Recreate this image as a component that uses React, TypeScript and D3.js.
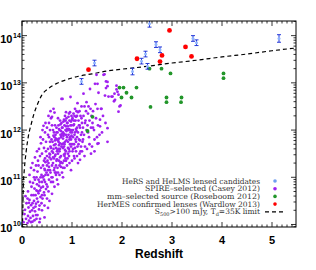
import React from 'react';
import * as d3 from 'd3';

const W = 316;
const H = 270;
const plot = { x0: 22, x1: 296, y0: 21, y1: 227 };

// all points are [redshift, log10 luminosity]
const caseyPoints: [number, number][] = [
  [0.03,10.05],[0.05,10.22],[0.06,10.31],[0.08,10.12],[0.09,10.45],[0.07,10.6],
  [0.11,10.03],[0.12,10.18],[0.13,10.36],[0.14,10.08],[0.15,10.52],[0.16,10.27],[0.17,10.14],[0.18,10.41],
  [0.19,10.62],[0.12,10.7],[0.16,10.9],[0.18,10.05],[0.14,10.46],[0.2,10.3],[0.19,10.8],[0.11,10.55],
  [0.21,10.06],[0.22,10.18],[0.23,10.35],[0.24,10.5],[0.25,10.09],[0.26,10.28],[0.27,10.62],[0.28,10.44],
  [0.29,10.72],[0.22,10.88],[0.24,11.0],[0.26,10.95],[0.28,10.2],[0.3,10.55],[0.23,10.62],[0.25,10.76],
  [0.27,10.38],[0.29,10.12],[0.21,10.45],[0.3,10.85],
  [0.31,10.2],[0.32,10.48],[0.33,10.66],[0.34,10.32],[0.35,10.9],[0.36,10.12],[0.37,10.58],[0.38,10.78],
  [0.39,11.05],[0.31,11.12],[0.33,10.95],[0.35,10.4],[0.36,10.72],[0.38,11.2],[0.4,10.62],[0.34,10.82],
  [0.37,11.0],[0.32,10.7],[0.39,10.45],[0.4,10.9],
  [0.41,10.55],[0.42,10.8],[0.43,11.02],[0.44,10.68],[0.45,11.18],[0.46,10.9],[0.47,11.32],[0.48,10.75],
  [0.49,11.1],[0.5,11.45],[0.42,11.25],[0.44,10.95],[0.46,11.4],[0.43,12.09],[0.48,11.55],[0.41,11.0],
  [0.45,10.62],[0.47,11.05],[0.49,10.85],[0.5,11.25],[0.44,11.35],[0.46,11.15],
  [0.51,10.8],[0.52,11.05],[0.53,11.3],[0.54,10.95],[0.55,11.5],[0.56,11.15],[0.57,11.65],[0.58,11.38],
  [0.59,11.0],[0.6,11.55],[0.52,11.6],[0.54,11.22],[0.56,11.75],[0.58,10.9],[0.55,11.42],[0.57,11.1],
  [0.59,11.8],[0.53,10.7],[0.51,11.35],[0.6,11.25],[0.56,11.48],[0.58,11.62],[0.54,11.85],[0.52,11.15],
  [0.61,11.0],[0.62,11.3],[0.63,11.6],[0.64,11.15],[0.65,11.85],[0.66,11.45],[0.67,11.7],[0.68,11.25],
  [0.69,11.95],[0.7,11.55],[0.61,11.75],[0.62,12.0],[0.63,12.45],[0.65,12.37],[0.64,11.4],[0.66,11.1],
  [0.67,11.9],[0.68,11.62],[0.69,11.35],[0.7,11.8],[0.62,11.52],[0.64,11.68],[0.66,12.1],[0.68,11.05],
  [0.63,11.88],[0.65,11.2],[0.67,11.48],[0.69,12.05],
  [0.71,11.2],[0.72,11.5],[0.73,11.75],[0.74,11.35],[0.75,12.0],[0.76,11.6],[0.77,11.9],[0.78,11.45],
  [0.79,12.15],[0.8,11.7],[0.71,11.95],[0.72,11.1],[0.73,12.1],[0.74,11.82],[0.75,11.55],[0.76,12.2],
  [0.77,11.3],[0.78,11.98],[0.79,11.65],[0.8,12.05],[0.72,11.78],[0.74,12.02],[0.76,11.42],[0.78,11.85],
  [0.73,11.6],[0.75,11.25],[0.77,12.12],[0.79,11.88],[0.71,11.58],[0.79,12.66],
  [0.81,11.3],[0.82,11.62],[0.83,11.88],[0.84,11.48],[0.85,12.1],[0.86,11.75],[0.87,12.0],[0.88,11.55],
  [0.89,12.25],[0.9,11.85],[0.81,12.05],[0.82,11.2],[0.83,12.18],[0.84,11.92],[0.85,11.7],[0.86,12.3],
  [0.87,11.4],[0.88,12.08],[0.89,11.78],[0.9,12.15],[0.82,11.95],[0.84,12.22],[0.86,11.58],[0.88,11.9],
  [0.83,11.72],[0.85,11.45],[0.87,12.2],[0.89,11.98],[0.81,12.66],[0.84,11.65],
  [0.91,11.4],[0.92,11.75],[0.93,12.0],[0.94,11.6],[0.95,12.2],[0.96,11.85],[0.97,12.1],[0.98,11.65],
  [0.99,12.3],[1.0,11.95],[0.91,12.15],[0.92,11.5],[0.93,12.28],[0.94,12.02],[0.95,11.8],[0.96,12.38],
  [0.97,12.7],[0.98,12.18],[0.99,11.88],[1.0,12.22],[0.92,12.08],[0.94,12.35],[0.96,11.7],[0.98,12.0],
  [0.93,11.9],[0.95,11.55],[0.97,11.95],[0.99,12.1],
  [1.01,11.55],[1.02,11.85],[1.03,12.1],[1.04,11.7],[1.05,12.3],[1.06,11.95],[1.07,12.2],[1.08,11.75],
  [1.09,12.4],[1.1,12.05],[1.01,12.25],[1.02,11.6],[1.03,12.35],[1.04,12.12],[1.05,11.9],[1.06,12.45],
  [1.07,11.8],[1.08,12.28],[1.09,11.98],[1.1,12.3],[1.04,11.45],[1.08,12.02],
  [1.11,11.65],[1.12,11.95],[1.13,12.2],[1.14,11.8],[1.15,12.4],[1.16,12.05],[1.17,12.3],[1.18,11.9],
  [1.19,12.5],[1.2,12.15],[1.11,12.57],[1.13,11.7],[1.15,12.1],[1.17,11.55],[1.19,12.25],[1.16,11.37],
  [1.21,11.75],[1.22,12.05],[1.23,12.3],[1.24,11.9],[1.25,12.5],[1.26,11.65],[1.27,12.2],[1.28,12.4],
  [1.29,12.0],[1.23,12.77],[1.29,12.59],[1.26,12.15],
  [1.31,12.1],[1.32,12.35],[1.33,12.5],[1.34,11.85],[1.35,12.2],[1.36,12.87],[1.37,12.45],[1.38,12.05],[1.39,12.3],
  [1.41,12.15],[1.42,12.4],[1.44,12.0],[1.46,12.98],[1.47,12.55],[1.48,12.25],[1.49,13.17],[1.45,11.8],
  [1.51,12.98],[1.51,12.45],[1.51,11.71],[1.53,12.79],[1.53,11.72],[1.56,12.22],[1.56,12.08],[1.58,12.45],[1.59,12.45],
  [1.63,13.17],[1.65,13.18],[1.66,12.73],[1.67,12.15],[1.68,12.89],[1.68,13.03],[1.71,12.04],[1.71,11.75],
  [1.71,12.93],[1.71,13.02],[1.73,12.71],[1.79,12.71],[1.81,12.71],[1.84,12.61],[1.85,12.77],[1.89,12.94],
  [1.91,12.81],[1.93,12.75],[1.93,12.39],[1.95,12.5],[1.97,12.52],[1.86,12.64],[1.89,12.86],
  // brighter edge at low redshift
  [0.15,11.05],[0.18,11.2],[0.21,11.3],[0.24,11.15],[0.26,11.42],[0.28,11.25],[0.3,11.55],[0.32,11.35],
  [0.34,11.6],[0.36,11.45],[0.38,11.72],[0.4,11.5],[0.42,11.8],[0.44,11.62],[0.46,11.95],[0.48,11.75],
  [0.5,12.05],[0.52,11.9],[0.54,12.15],[0.56,12.0],[0.58,12.25],[0.6,12.1],[0.37,11.85],[0.41,12.0],
  [0.29,11.0],[0.33,11.25],[0.47,12.15],[0.53,12.3],[0.57,12.4],[0.6,12.28],
  // fainter edge at higher redshift
  [0.55,10.5],[0.6,10.65],[0.65,10.8],[0.7,10.95],[0.75,11.05],[0.8,11.1],[0.85,11.2],[0.9,11.25],
  [0.95,11.3],[1.0,11.35],[1.05,11.4],[1.1,11.45],[1.15,11.5],[1.2,11.55],[1.25,11.45],[1.3,11.6],
  [1.35,11.7],[1.4,11.65],[1.45,11.55],[1.5,11.85],[1.55,11.9],[1.6,11.95],[0.72,10.85],[0.82,11.0],
  [0.62,10.9],[0.68,11.1],[0.78,11.22],[0.88,11.35],[0.98,11.15],[1.12,11.3],[1.22,11.8],[1.32,11.95],
  [1.42,12.05],[1.52,12.1],[1.62,12.3],[1.38,11.5],[0.45,10.4],[0.5,10.55],[0.4,10.3],[0.35,10.05],
  [0.45,10.15],[0.52,10.35],
  // core
  [0.62,11.42],[0.66,11.78],[0.7,11.38],[0.74,11.68],[0.78,11.32],[0.82,11.82],[0.86,11.5],[0.9,12.02],
  [0.94,11.45],[0.98,11.8],[1.02,12.0],[1.06,11.62],[1.1,11.85],[1.14,12.1],[1.18,11.65],[0.64,11.95],
  [0.68,11.82],[0.72,12.25],[0.76,11.72],[0.8,11.92],[0.84,11.35],[0.88,12.38],[0.92,11.62],[0.96,12.0],
  [1.0,11.7],[1.04,12.2],[1.08,11.55],[1.12,12.38],[1.16,11.78],[1.2,11.95],
];

const roseboomPoints: [number, number][] = [
  [1.31,11.98],[1.41,12.28],[1.95,12.9],[1.99,12.69],[2.03,12.9],[2.09,12.79],[2.19,12.69],[2.29,12.9],
  [2.55,13.3],[2.57,12.49],[2.79,13.3],[2.89,12.69],[2.89,12.59],[2.97,13.2],[3.18,12.59],[3.19,12.69],
  [4.03,13.2],[4.03,13.1],
];

const wardlowPoints: [number, number][] = [
  [1.33,13.28],[2.3,13.51],[2.76,13.45],[2.8,13.58],[2.95,14.11],[3.27,13.76],[3.39,13.56],
];

const candidatePoints: [number, number][] = [
  [1.19,13.03],[1.45,13.42],[2.21,13.24],[2.39,13.46],[2.47,13.61],[2.51,13.35],[2.55,14.25],
  [2.68,13.81],[2.76,13.7],[3.42,13.94],[3.49,13.85],[5.14,13.94],
];
const candidateErr = [0.06,0.06,0.07,0.06,0.06,0.06,0.07,0.06,0.06,0.06,0.06,0.08];

const limitCurve: [number, number][] = [
  [0.008,9.9],[0.014,10.18],[0.026,10.8],[0.046,11.16],[0.08,11.52],[0.126,11.86],[0.19,12.15],
  [0.25,12.38],[0.3,12.52],[0.39,12.73],[0.53,12.88],[0.7,12.99],[0.9,13.07],[1.13,13.14],[1.4,13.19],
  [1.7,13.25],[2.0,13.29],[2.5,13.35],[3.0,13.42],[3.5,13.48],[4.0,13.55],[4.5,13.61],[5.0,13.68],[5.5,13.74],
];

const xTicks = [0, 1, 2, 3, 4, 5];
const yDecades = [10, 11, 12, 13, 14];

const legendLabels = [
  'HeRS and HeLMS lensed candidates',
  'SPIRE\u2013selected (Casey 2012)',
  'mm\u2013selected source (Roseboom 2012)',
  'HerMES confirmed lenses (Wardlow 2013)',
];
const legendColors = ['#6f9ef0', '#a020f0', '#22962a', '#ff0000'];
const legendWidths = [138, 115, 153, 163];

const x = d3.scaleLinear().domain([0, 5.48]).range([plot.x0, plot.x1]);
const y = d3.scaleLinear().domain([9.947, 14.31]).range([plot.y1, plot.y0]);

const App: React.FC = () => {
  const line = d3.line<[number, number]>()
    .x(d => x(d[0]))
    .y(d => y(d[1]))
    .curve(d3.curveMonotoneX);

  const minorX = d3.range(0, 55).map(i => i / 10).filter(v => v <= 5.48);
  const minorY: number[] = [];
  for (let d = 9; d <= 14; d++) {
    for (let k = 2; k <= 9; k++) {
      const v = d + Math.log10(k);
      if (v > 9.947 && v < 14.31) minorY.push(v);
    }
  }

  const sans = 'Liberation Sans, Arial, sans-serif';
  const serif = 'DejaVu Serif, serif';
  const legY = [181, 188.7, 196.4, 204.1, 211.8];

  return (
    <svg width={W} height={H} style={{ position: 'absolute', left: 0, top: 0, background: '#fff' }}>
      <defs>
        <clipPath id="plot-clip">
          <rect x={plot.x0} y={plot.y0} width={plot.x1 - plot.x0} height={plot.y1 - plot.y0} />
        </clipPath>
      </defs>

      {/* ticks */}
      <g stroke="#000" strokeWidth={0.8}>
        {minorX.map((v, i) => {
          const major = Math.abs(v - Math.round(v)) < 1e-6;
          const len = major ? 5 : 2.5;
          return (
            <g key={'mx' + i}>
              <line x1={x(v)} x2={x(v)} y1={plot.y1} y2={plot.y1 - len} />
              <line x1={x(v)} x2={x(v)} y1={plot.y0} y2={plot.y0 + len} />
            </g>
          );
        })}
        {yDecades.map(d => (
          <g key={'yd' + d}>
            <line x1={plot.x0} x2={plot.x0 + 5} y1={y(d)} y2={y(d)} />
            <line x1={plot.x1} x2={plot.x1 - 5} y1={y(d)} y2={y(d)} />
          </g>
        ))}
        {minorY.map((v, i) => (
          <g key={'my' + i}>
            <line x1={plot.x0} x2={plot.x0 + 2.5} y1={y(v)} y2={y(v)} />
            <line x1={plot.x1} x2={plot.x1 - 2.5} y1={y(v)} y2={y(v)} />
          </g>
        ))}
      </g>

      <g clipPath="url(#plot-clip)">
        <path d={line(limitCurve) || ''} fill="none" stroke="#000" strokeWidth={1.2} strokeDasharray="4,3" />
        {caseyPoints.map((p, i) => (
          <circle key={'c' + i} cx={x(p[0])} cy={y(p[1])} r={1.4} fill="#a020f0" />
        ))}
        {roseboomPoints.map((p, i) => (
          <circle key={'g' + i} cx={x(p[0])} cy={y(p[1])} r={1.9} fill="#22962a" />
        ))}
        {wardlowPoints.map((p, i) => (
          <circle key={'r' + i} cx={x(p[0])} cy={y(p[1])} r={2.4} fill="#ff0000" />
        ))}
        {candidatePoints.map((p, i) => {
          const cx = x(p[0]);
          const top = y(p[1] + candidateErr[i]);
          const bot = y(p[1] - candidateErr[i]);
          return (
            <g key={'b' + i}>
              <line x1={cx} x2={cx} y1={top} y2={bot} stroke="#2438d8" strokeWidth={1} />
              <line x1={cx - 2} x2={cx + 2} y1={top} y2={top} stroke="#2438d8" strokeWidth={1} />
              <line x1={cx - 2} x2={cx + 2} y1={bot} y2={bot} stroke="#2438d8" strokeWidth={1} />
              <circle cx={cx} cy={y(p[1])} r={1.5} fill="#8fb4ff" />
            </g>
          );
        })}
      </g>

      {/* frame */}
      <rect x={plot.x0} y={plot.y0} width={plot.x1 - plot.x0} height={plot.y1 - plot.y0}
        fill="none" stroke="#000" strokeWidth={1} />

      {/* x tick labels */}
      {xTicks.map(t => (
        <text key={'xt' + t} x={x(t)} y={244} textAnchor="middle" fontFamily={sans}
          fontWeight="bold" fontSize={11}>{t}</text>
      ))}
      <text x={159} y={258} textAnchor="middle" fontFamily={sans} fontWeight="bold" fontSize={12}>Redshift</text>

      {/* y tick labels */}
      {yDecades.map(d => (
        <g key={'yl' + d} fontFamily={sans} fontWeight="bold">
          <text x={12.5} y={y(d) + 7.5} textAnchor="end" fontSize={11}>10</text>
          <text x={13} y={y(d) + 2} fontSize={7}>{d}</text>
        </g>
      ))}

      {/* legend */}
      <g fontFamily={serif} fontSize={7.5} fill="#333">
        {legendLabels.map((l, i) => (
          <g key={'lg' + i}>
            <text x={260} y={legY[i] + 2.6} textAnchor="end" textLength={legendWidths[i]}
              lengthAdjust="spacingAndGlyphs">{l}</text>
            <circle cx={275} cy={legY[i]} r={1.8} fill={legendColors[i]} />
          </g>
        ))}
        <text x={260} y={legY[4] + 2.6} textAnchor="end">
          S<tspan fontSize={5} dy={1.5}>500</tspan><tspan dy={-1.5}>&gt;100 mJy, T</tspan>
          <tspan fontSize={5} dy={1.5}>d</tspan><tspan dy={-1.5}>=35K limit</tspan>
        </text>
        <line x1={265} x2={283} y1={legY[4]} y2={legY[4]} stroke="#000" strokeWidth={1.2} strokeDasharray="4,3" />
      </g>
    </svg>
  );
};

export default App;
